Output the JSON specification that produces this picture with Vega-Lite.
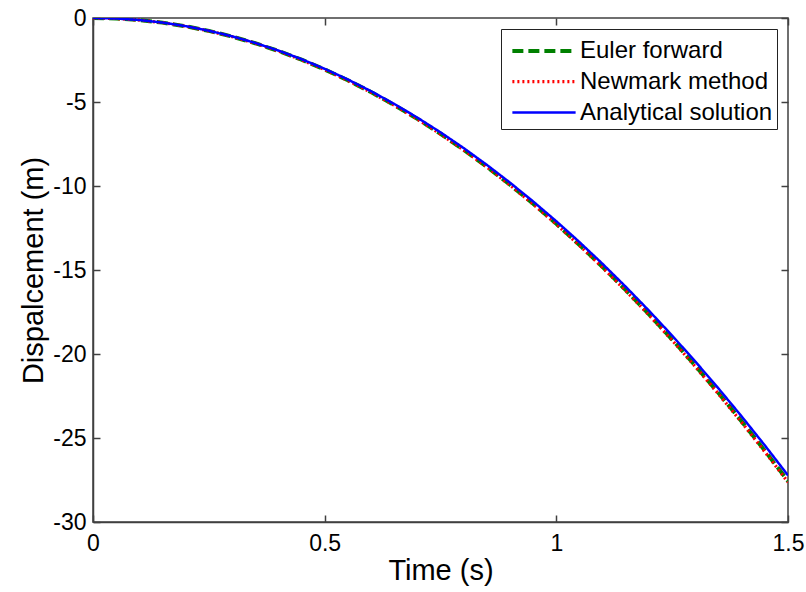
{
  "$schema": "https://vega.github.io/schema/vega-lite/v6.json",
  "autosize": {"type": "none"},
  "width": 695,
  "height": 504,
  "padding": {"left": 93, "top": 18, "right": 18, "bottom": 70},
  "background": "white",
  "config": {
    "font": "Liberation Sans",
    "view": {"stroke": "#404040", "strokeWidth": 1.5},
    "axis": {
      "grid": false,
      "domainColor": "#404040",
      "domainWidth": 1.5,
      "tickColor": "#404040",
      "tickWidth": 1.5,
      "tickSize": -7,
      "labelFlush": false,
      "labelColor": "black",
      "labelFontSize": 23,
      "labelFont": "Liberation Sans",
      "titleFont": "Liberation Sans",
      "titleFontSize": 29,
      "titleFontWeight": "normal",
      "titleColor": "black"
    }
  },
  "datasets": {
    "curves": [
      {"t": 0, "d": 0, "s": "Euler forward"},
      {"t": 0.05, "d": -0.031, "s": "Euler forward"},
      {"t": 0.1, "d": -0.123, "s": "Euler forward"},
      {"t": 0.15, "d": -0.276, "s": "Euler forward"},
      {"t": 0.2, "d": -0.49, "s": "Euler forward"},
      {"t": 0.25, "d": -0.766, "s": "Euler forward"},
      {"t": 0.3, "d": -1.103, "s": "Euler forward"},
      {"t": 0.35, "d": -1.501, "s": "Euler forward"},
      {"t": 0.4, "d": -1.96, "s": "Euler forward"},
      {"t": 0.45, "d": -2.481, "s": "Euler forward"},
      {"t": 0.5, "d": -3.063, "s": "Euler forward"},
      {"t": 0.55, "d": -3.706, "s": "Euler forward"},
      {"t": 0.6, "d": -4.41, "s": "Euler forward"},
      {"t": 0.65, "d": -5.176, "s": "Euler forward"},
      {"t": 0.7, "d": -6.003, "s": "Euler forward"},
      {"t": 0.75, "d": -6.891, "s": "Euler forward"},
      {"t": 0.8, "d": -7.84, "s": "Euler forward"},
      {"t": 0.85, "d": -8.851, "s": "Euler forward"},
      {"t": 0.9, "d": -9.923, "s": "Euler forward"},
      {"t": 0.95, "d": -11.056, "s": "Euler forward"},
      {"t": 1.0, "d": -12.25, "s": "Euler forward"},
      {"t": 1.05, "d": -13.506, "s": "Euler forward"},
      {"t": 1.1, "d": -14.823, "s": "Euler forward"},
      {"t": 1.15, "d": -16.201, "s": "Euler forward"},
      {"t": 1.2, "d": -17.64, "s": "Euler forward"},
      {"t": 1.25, "d": -19.141, "s": "Euler forward"},
      {"t": 1.3, "d": -20.703, "s": "Euler forward"},
      {"t": 1.35, "d": -22.326, "s": "Euler forward"},
      {"t": 1.4, "d": -24.01, "s": "Euler forward"},
      {"t": 1.45, "d": -25.756, "s": "Euler forward"},
      {"t": 1.5, "d": -27.563, "s": "Euler forward"},
      {"t": 0, "d": 0, "s": "Newmark method"},
      {"t": 0.05, "d": -0.031, "s": "Newmark method"},
      {"t": 0.1, "d": -0.123, "s": "Newmark method"},
      {"t": 0.15, "d": -0.276, "s": "Newmark method"},
      {"t": 0.2, "d": -0.491, "s": "Newmark method"},
      {"t": 0.25, "d": -0.768, "s": "Newmark method"},
      {"t": 0.3, "d": -1.105, "s": "Newmark method"},
      {"t": 0.35, "d": -1.504, "s": "Newmark method"},
      {"t": 0.4, "d": -1.965, "s": "Newmark method"},
      {"t": 0.45, "d": -2.487, "s": "Newmark method"},
      {"t": 0.5, "d": -3.07, "s": "Newmark method"},
      {"t": 0.55, "d": -3.715, "s": "Newmark method"},
      {"t": 0.6, "d": -4.421, "s": "Newmark method"},
      {"t": 0.65, "d": -5.188, "s": "Newmark method"},
      {"t": 0.7, "d": -6.017, "s": "Newmark method"},
      {"t": 0.75, "d": -6.908, "s": "Newmark method"},
      {"t": 0.8, "d": -7.859, "s": "Newmark method"},
      {"t": 0.85, "d": -8.872, "s": "Newmark method"},
      {"t": 0.9, "d": -9.947, "s": "Newmark method"},
      {"t": 0.95, "d": -11.083, "s": "Newmark method"},
      {"t": 1.0, "d": -12.28, "s": "Newmark method"},
      {"t": 1.05, "d": -13.539, "s": "Newmark method"},
      {"t": 1.1, "d": -14.859, "s": "Newmark method"},
      {"t": 1.15, "d": -16.24, "s": "Newmark method"},
      {"t": 1.2, "d": -17.683, "s": "Newmark method"},
      {"t": 1.25, "d": -19.188, "s": "Newmark method"},
      {"t": 1.3, "d": -20.753, "s": "Newmark method"},
      {"t": 1.35, "d": -22.381, "s": "Newmark method"},
      {"t": 1.4, "d": -24.07, "s": "Newmark method"},
      {"t": 1.45, "d": -25.82, "s": "Newmark method"},
      {"t": 1.5, "d": -27.63, "s": "Newmark method"},
      {"t": 0, "d": 0, "s": "Analytical solution"},
      {"t": 0.05, "d": -0.03, "s": "Analytical solution"},
      {"t": 0.1, "d": -0.121, "s": "Analytical solution"},
      {"t": 0.15, "d": -0.272, "s": "Analytical solution"},
      {"t": 0.2, "d": -0.484, "s": "Analytical solution"},
      {"t": 0.25, "d": -0.756, "s": "Analytical solution"},
      {"t": 0.3, "d": -1.089, "s": "Analytical solution"},
      {"t": 0.35, "d": -1.482, "s": "Analytical solution"},
      {"t": 0.4, "d": -1.936, "s": "Analytical solution"},
      {"t": 0.45, "d": -2.45, "s": "Analytical solution"},
      {"t": 0.5, "d": -3.025, "s": "Analytical solution"},
      {"t": 0.55, "d": -3.66, "s": "Analytical solution"},
      {"t": 0.6, "d": -4.356, "s": "Analytical solution"},
      {"t": 0.65, "d": -5.112, "s": "Analytical solution"},
      {"t": 0.7, "d": -5.929, "s": "Analytical solution"},
      {"t": 0.75, "d": -6.806, "s": "Analytical solution"},
      {"t": 0.8, "d": -7.744, "s": "Analytical solution"},
      {"t": 0.85, "d": -8.742, "s": "Analytical solution"},
      {"t": 0.9, "d": -9.801, "s": "Analytical solution"},
      {"t": 0.95, "d": -10.92, "s": "Analytical solution"},
      {"t": 1.0, "d": -12.1, "s": "Analytical solution"},
      {"t": 1.05, "d": -13.34, "s": "Analytical solution"},
      {"t": 1.1, "d": -14.641, "s": "Analytical solution"},
      {"t": 1.15, "d": -16.002, "s": "Analytical solution"},
      {"t": 1.2, "d": -17.424, "s": "Analytical solution"},
      {"t": 1.25, "d": -18.906, "s": "Analytical solution"},
      {"t": 1.3, "d": -20.449, "s": "Analytical solution"},
      {"t": 1.35, "d": -22.052, "s": "Analytical solution"},
      {"t": 1.4, "d": -23.716, "s": "Analytical solution"},
      {"t": 1.45, "d": -25.44, "s": "Analytical solution"},
      {"t": 1.5, "d": -27.225, "s": "Analytical solution"}
    ]
  },
  "data": {"name": "curves"},
  "resolve": {"axis": {"x": "independent", "y": "independent"}},
  "layer": [
    {
      "mark": {"type": "line", "clip": true},
      "encoding": {
        "x": {"field": "t", "type": "quantitative", "scale": {"domain": [0, 1.5], "nice": false},
              "axis": {"title": "Time (s)", "values": [0, 0.5, 1, 1.5], "labelExpr": "datum.value + ''", "labelPadding": 17, "titlePadding": 1}},
        "y": {"field": "d", "type": "quantitative", "scale": {"domain": [-30, 0], "nice": false},
              "axis": {"title": "Dispalcement (m)", "values": [-30, -25, -20, -15, -10, -5, 0], "labelExpr": "datum.value + ''", "labelPadding": 14, "titlePadding": 4}},
        "color": {"field": "s", "type": "nominal",
          "scale": {"domain": ["Euler forward", "Newmark method", "Analytical solution"], "range": ["#008000", "#ff0000", "#0000ff"]},
          "legend": {"title": null, "orient": "top-right", "offset": 11, "fillColor": "white", "strokeColor": "#222222", "padding": 4,
                     "labelFontSize": 24, "labelFont": "Liberation Sans", "labelColor": "black", "labelLimit": 400,
                     "symbolType": "M-2,0H2", "symbolSize": 1000, "symbolOffset": 21, "symbolFillColor": "transparent",
                     "symbolStrokeWidth": 3.5, "labelOffset": 18, "rowPadding": 1}},
        "strokeDash": {"field": "s", "type": "nominal",
          "scale": {"domain": ["Euler forward", "Newmark method", "Analytical solution"], "range": [[11, 5], [2, 3], [1, 0]]},
          "legend": null},
        "strokeWidth": {"field": "s", "type": "nominal",
          "scale": {"domain": ["Euler forward", "Newmark method", "Analytical solution"], "range": [4, 2.5, 3.5]},
          "legend": null},
        "order": {"field": "s", "sort": "ascending"}
      }
    },
    {
      "mark": {"type": "point", "opacity": 0},
      "encoding": {
        "x": {"field": "t", "type": "quantitative", "scale": {"domain": [0, 1.5], "nice": false},
              "axis": {"orient": "top", "title": null, "labels": false, "values": [0, 0.5, 1, 1.5], "domain": false}},
        "y": {"field": "d", "type": "quantitative", "scale": {"domain": [-30, 0], "nice": false},
              "axis": {"orient": "right", "title": null, "labels": false, "values": [-30, -25, -20, -15, -10, -5, 0], "domain": false}}
      }
    }
  ]
}
